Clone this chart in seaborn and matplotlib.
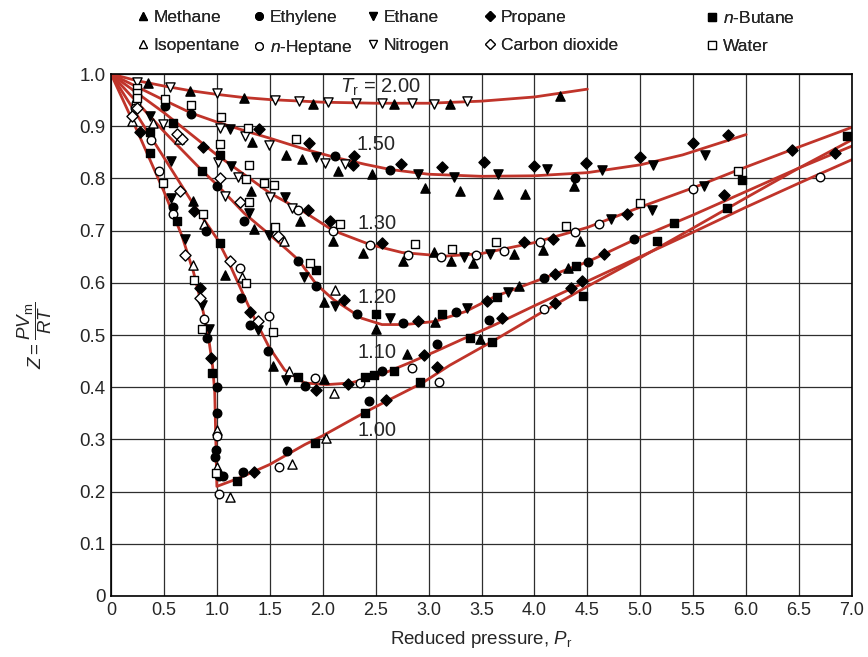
import matplotlib
matplotlib.use('Agg')
import numpy as np
import pandas as pd
import matplotlib.pyplot as plt
from matplotlib.lines import Line2D
from matplotlib import font_manager
import seaborn as sns

# ## 데이터

# 곡선: 환산 온도별 (Pr, Z)
tr_labels = ['2.00', '1.50', '1.30', '1.20', '1.10', '1.00']
tr200_pr = [0, 0.25, 0.5, 0.75, 1.0, 1.25, 1.5, 2.0, 2.5, 3.0, 3.5, 4.0, 4.5]
tr200_z = [1.0, 0.987, 0.977, 0.968, 0.961, 0.955, 0.951, 0.946, 0.944, 0.944, 0.948, 0.956, 0.971]
tr150_pr = [0, 0.25, 0.5, 0.76, 1.0, 1.3, 1.5, 1.83, 2.12, 2.4, 2.64, 3.0, 3.5, 4.0, 4.5, 5.0, 5.4, 6.0]
tr150_z = [1.0, 0.975, 0.95, 0.925, 0.908, 0.889, 0.877, 0.856, 0.840, 0.827, 0.817, 0.808, 0.804, 0.805, 0.811, 0.826, 0.845, 0.884]
tr130_pr = [0, 0.25, 0.5, 0.87, 1.0, 1.33, 1.5, 1.83, 2.1, 2.45, 2.75, 3.15, 3.5, 4.0, 4.5, 5.0, 5.5, 5.91, 6.43, 7.0]
tr130_z = [1.0, 0.963, 0.926, 0.866, 0.845, 0.797, 0.772, 0.735, 0.700, 0.673, 0.658, 0.651, 0.656, 0.677, 0.706, 0.745, 0.782, 0.815, 0.855, 0.898]
tr120_pr = [0, 0.25, 0.5, 0.86, 1.0, 1.26, 1.5, 1.66, 1.77, 1.94, 2.1, 2.2, 2.37, 2.56, 2.78, 3.06, 3.35, 3.63, 4.09, 4.5, 4.95, 5.5, 6.0, 6.5, 7.0]
tr120_z = [1.0, 0.945, 0.89, 0.815, 0.788, 0.733, 0.692, 0.664, 0.644, 0.597, 0.568, 0.555, 0.532, 0.520, 0.520, 0.526, 0.545, 0.574, 0.609, 0.640, 0.683, 0.730, 0.775, 0.820, 0.862]
tr110_pr = [0, 0.25, 0.5, 0.78, 1.0, 1.1, 1.2, 1.33, 1.49, 1.64, 1.83, 2.04, 2.26, 2.51, 2.81, 3.06, 3.31, 3.63, 4.0, 4.5, 5.0, 5.5, 6.0, 6.5, 7.0]
tr110_z = [1.0, 0.92, 0.84, 0.75, 0.685, 0.645, 0.600, 0.542, 0.478, 0.433, 0.408, 0.405, 0.408, 0.421, 0.446, 0.468, 0.491, 0.520, 0.556, 0.603, 0.650, 0.697, 0.745, 0.791, 0.836]
tr100_pr = [0, 0.25, 0.5, 0.67, 0.78, 0.86, 0.92, 0.96, 0.98, 0.99, 1.0, 1.2, 1.5, 1.83, 2.0, 2.4, 2.6, 2.94, 3.2, 3.63, 4.09, 4.5, 5.0, 5.5, 6.0, 6.5, 7.0]
tr100_z = [1.0, 0.89, 0.775, 0.69, 0.62, 0.555, 0.497, 0.44, 0.39, 0.30, 0.21, 0.225, 0.252, 0.29, 0.307, 0.352, 0.373, 0.408, 0.442, 0.491, 0.546, 0.593, 0.648, 0.705, 0.763, 0.82, 0.874]

# 측정점: 물질별 (Pr, Z)
methane_pr = [0.35, 0.75, 1.26, 1.91, 2.67, 3.20, 4.24,
              1.33, 1.65, 1.80, 2.14, 2.47, 2.97, 3.30, 3.66, 3.91, 4.37,
              1.32, 1.79, 2.10, 2.38, 2.76, 3.05, 3.21, 3.42, 3.81, 4.08, 4.43,
              1.35, 2.01, 2.50, 3.06, 3.85, 4.32,
              0.77, 1.08, 1.53, 2.01, 2.80, 3.49]
methane_z = [0.983, 0.967, 0.954, 0.943, 0.943, 0.943, 0.958,
             0.870, 0.845, 0.837, 0.814, 0.808, 0.781, 0.775, 0.771, 0.771, 0.785,
             0.775, 0.718, 0.680, 0.657, 0.641, 0.659, 0.641, 0.637, 0.656, 0.663, 0.680,
             0.704, 0.564, 0.511, 0.525, 0.593, 0.628,
             0.757, 0.614, 0.441, 0.415, 0.464, 0.492]
ethylene_pr = [0.51, 0.76, 2.12, 2.64, 4.38,
               1.00, 1.26, 1.77, 1.94, 2.32, 2.76, 3.26, 4.09, 4.51, 4.94,
               0.90, 1.23, 1.31, 1.48, 1.83, 2.56, 3.08, 3.57,
               0.59, 0.91, 1.00, 1.00, 0.99, 0.98, 1.02, 1.06, 1.25, 1.66, 2.44]
ethylene_z = [0.939, 0.923, 0.843, 0.817, 0.800,
              0.786, 0.719, 0.641, 0.593, 0.541, 0.523, 0.545, 0.609, 0.640, 0.683,
              0.700, 0.571, 0.520, 0.469, 0.403, 0.431, 0.483, 0.528,
              0.745, 0.494, 0.401, 0.351, 0.280, 0.267, 0.229, 0.230, 0.237, 0.277, 0.374]
ethane_pr = [1.12, 1.94, 2.90, 3.24, 3.66, 4.12, 4.64, 5.12, 5.61,
             1.13, 1.64, 3.33, 3.58, 4.72, 5.11, 5.60,
             1.30, 1.49, 1.82, 2.12, 2.64, 3.36, 3.75,
             0.57, 1.39, 1.65,
             0.57, 0.70, 0.86, 0.93, 0.37]
ethane_z = [0.894, 0.841, 0.809, 0.803, 0.809, 0.818, 0.816, 0.825, 0.845,
            0.824, 0.764, 0.649, 0.656, 0.722, 0.740, 0.785,
            0.733, 0.692, 0.612, 0.555, 0.532, 0.552, 0.582,
            0.833, 0.510, 0.413,
            0.763, 0.683, 0.558, 0.512, 0.920]
propane_pr = [1.40, 1.87, 2.30, 2.29, 2.74, 3.13, 3.52, 4.00, 4.49, 5.00, 5.50, 5.83,
              0.87, 1.86, 2.07, 2.56, 3.90, 4.18, 4.87, 6.43,
              0.27, 2.20, 2.90, 3.55, 4.19, 4.66, 5.79, 6.84,
              0.78, 1.31, 1.94, 2.24, 2.96, 3.69, 4.45,
              0.84, 0.94, 1.35, 2.60, 3.08, 4.19, 4.35]
propane_z = [0.894, 0.867, 0.843, 0.826, 0.828, 0.821, 0.832, 0.823, 0.830, 0.841, 0.867, 0.883,
             0.860, 0.740, 0.718, 0.676, 0.679, 0.683, 0.731, 0.855,
             0.888, 0.568, 0.527, 0.566, 0.616, 0.656, 0.769, 0.849,
             0.738, 0.545, 0.395, 0.406, 0.462, 0.532, 0.603,
             0.590, 0.456, 0.237, 0.375, 0.439, 0.561, 0.590]
butane_pr = [1.03, 0.59, 0.86, 1.94, 2.50, 3.13, 3.65, 4.39, 5.32, 5.96,
             1.03, 1.77, 2.40, 2.48, 2.67, 3.39,
             0.37, 0.37, 0.62, 0.95, 1.19, 1.93, 2.40, 2.92, 3.60, 4.46, 5.16, 5.82, 6.95]
butane_z = [0.845, 0.907, 0.815, 0.625, 0.541, 0.541, 0.573, 0.632, 0.715, 0.796,
            0.676, 0.420, 0.420, 0.424, 0.431, 0.494,
            0.888, 0.849, 0.718, 0.427, 0.221, 0.294, 0.350, 0.410, 0.487, 0.574, 0.680, 0.743, 0.881]
isopentane_pr = [0.20, 0.40, 0.64, 0.77, 0.88, 1.24, 1.63, 2.12, 1.68, 2.11, 1.00, 1.00, 1.71, 1.12, 2.03]
isopentane_z = [0.910, 0.907, 0.875, 0.635, 0.712, 0.612, 0.680, 0.587, 0.431, 0.388, 0.318, 0.248, 0.253, 0.190, 0.302]
heptane_pr = [0.24, 0.23, 0.45, 0.38, 0.59, 0.88, 1.22, 1.49, 1.77, 2.10, 2.45, 2.81, 3.12, 3.45, 3.71,
              4.05, 4.38, 4.61, 5.50, 1.93, 2.35, 2.84, 3.10, 1.00, 1.59, 1.02, 4.09, 6.70]
heptane_z = [0.945, 0.935, 0.814, 0.874, 0.732, 0.530, 0.628, 0.536, 0.739, 0.700, 0.673, 0.654, 0.650, 0.654, 0.661,
             0.679, 0.697, 0.713, 0.780, 0.417, 0.409, 0.436, 0.410, 0.306, 0.247, 0.196, 0.549, 0.803]
nitrogen_pr = [0.25, 0.56, 1.00, 1.55, 1.78, 2.05, 2.31, 2.56, 2.84, 3.05, 3.36,
               1.03, 1.27, 1.49, 2.02, 2.21, 1.01, 1.20, 1.50, 1.71, 1.08, 0.49]
nitrogen_z = [0.984, 0.975, 0.964, 0.951, 0.949, 0.946, 0.945, 0.945, 0.945, 0.943, 0.948,
              0.896, 0.881, 0.864, 0.830, 0.827, 0.832, 0.803, 0.764, 0.744, 0.767, 0.905]
co2_pr = [0.20, 0.62, 0.67, 1.03, 1.22, 1.58, 0.65, 1.12, 1.39, 0.70, 0.84, 0.25]
co2_z = [0.920, 0.885, 0.875, 0.801, 0.754, 0.690, 0.776, 0.641, 0.526, 0.654, 0.571, 0.935]
water_pr = [0.25, 0.25, 0.25, 0.51, 0.76, 1.04, 1.29, 1.75, 1.03, 1.30, 1.28, 1.45, 1.54, 1.30, 1.55,
            2.16, 2.87, 3.22, 3.64, 4.30, 5.00, 5.92, 1.88, 0.87, 0.49, 1.28, 1.53, 0.78, 0.86, 0.99]
water_z = [0.974, 0.964, 0.954, 0.952, 0.941, 0.918, 0.897, 0.875, 0.865, 0.826, 0.798, 0.792, 0.787, 0.754, 0.707,
           0.712, 0.674, 0.665, 0.678, 0.708, 0.753, 0.815, 0.638, 0.731, 0.791, 0.600, 0.505, 0.606, 0.512, 0.236]

x_ticks = [0, 0.5, 1.0, 1.5, 2.0, 2.5, 3.0, 3.5, 4.0, 4.5, 5.0, 5.5, 6.0, 6.5, 7.0]
x_tick_labels = ['0', '0.5', '1.0', '1.5', '2.0', '2.5', '3.0', '3.5', '4.0', '4.5', '5.0', '5.5', '6.0', '6.5', '7.0']
y_ticks = [0, 0.1, 0.2, 0.3, 0.4, 0.5, 0.6, 0.7, 0.8, 0.9, 1.0]
y_tick_labels = ['0', '0.1', '0.2', '0.3', '0.4', '0.5', '0.6', '0.7', '0.8', '0.9', '1.0']

# ## 스타일 설정
sns.set_style('white')
plt.rcParams['font.family'] = ['Liberation Sans', 'DejaVu Sans']
plt.rcParams['mathtext.fontset'] = 'custom'
plt.rcParams['mathtext.rm'] = 'Liberation Sans'
plt.rcParams['mathtext.it'] = 'Liberation Sans:italic'

names = {f.name for f in font_manager.fontManager.ttflist}
narrow = 'Liberation Sans Narrow' if 'Liberation Sans Narrow' in names else 'Liberation Sans'

red = '#c0342a'

curves = pd.concat([
    pd.DataFrame({'Pr': p, 'Z': z, 'Tr': t})
    for t, p, z in zip(tr_labels,
                       [tr200_pr, tr150_pr, tr130_pr, tr120_pr, tr110_pr, tr100_pr],
                       [tr200_z, tr150_z, tr130_z, tr120_z, tr110_z, tr100_z])
], ignore_index=True)

# (이름, x, y, 마커, 채움 여부) - 범례 열 순서대로
species = [
    ('Methane', methane_pr, methane_z, '^', True),
    ('Isopentane', isopentane_pr, isopentane_z, '^', False),
    ('Ethylene', ethylene_pr, ethylene_z, 'o', True),
    ('$n$-Heptane', heptane_pr, heptane_z, 'o', False),
    ('Ethane', ethane_pr, ethane_z, 'v', True),
    ('Nitrogen', nitrogen_pr, nitrogen_z, 'v', False),
    ('Propane', propane_pr, propane_z, 'D', True),
    ('Carbon dioxide', co2_pr, co2_z, 'D', False),
    ('$n$-Butane', butane_pr, butane_z, 's', True),
    ('Water', water_pr, water_z, 's', False),
]

fig = plt.figure(figsize=(8.68, 6.57), dpi=100)
ax = fig.add_axes([111 / 868, 61 / 657, 741 / 868, 522 / 657])

sns.lineplot(data=curves, x='Pr', y='Z', units='Tr', estimator=None, sort=False,
             color=red, linewidth=2.0, ax=ax, zorder=2)

sizes = {'^': 44, 'v': 44, 'o': 38, 'D': 32, 's': 32}
for name, px, pz, mk, filled in species:
    sns.scatterplot(x=px, y=pz, marker=mk, s=sizes[mk],
                    color='black' if filled else 'white',
                    edgecolor='black', linewidth=1.0, ax=ax, zorder=3)

ax.set_xlim(0, 7.0)
ax.set_ylim(0, 1.0)
ax.set_xticks(x_ticks)
ax.set_xticklabels(x_tick_labels, fontsize=13, family=narrow)
ax.set_yticks(y_ticks)
ax.set_yticklabels(y_tick_labels, fontsize=13.5)
ax.tick_params(length=0, pad=4)
ax.grid(True, color='#2e2e2e', linewidth=0.9)
ax.set_axisbelow(True)
for s in ax.spines.values():
    s.set_color('black')
    s.set_linewidth(1.2)
ax.set_xlabel('')
ax.set_ylabel('')

# 곡선 라벨
ax.text(2.16, 0.975, r'$T_\mathrm{r}$ = 2.00', fontsize=14.5, va='center', ha='left', zorder=4)
for lab, x, y in [('1.50', 2.32, 0.864), ('1.30', 2.33, 0.714), ('1.20', 2.33, 0.571),
                  ('1.10', 2.33, 0.467), ('1.00', 2.33, 0.318)]:
    ax.text(x, y, lab, fontsize=14.5, va='center', ha='left', zorder=4)

fig.text(0.554, 0.026, r'Reduced pressure, $P_\mathrm{r}$', fontsize=13.5, family=narrow,
         ha='center', va='center')
fig.text(0.040, 0.49, r'$Z=\dfrac{PV_\mathrm{m}}{RT}$', fontsize=13.5, rotation=90,
         ha='center', va='center')

# 범례: 열마다 따로 배치
col_x = [138, 254, 368, 485, 707]
for i, cx in enumerate(col_x):
    hs = []
    for name, px, pz, mk, filled in species[2 * i:2 * i + 2]:
        hs.append(Line2D([], [], linestyle='none', marker=mk, markersize=5.5 if mk != 'D' else 4.8,
                         markerfacecolor='black' if filled else 'white',
                         markeredgecolor='black', markeredgewidth=0.9, label=name))
    leg = fig.legend(handles=hs, ncol=1, loc='upper left', bbox_to_anchor=(cx / 868, 1 - 10 / 657),
                     frameon=False, prop={'family': narrow, 'size': 12.5}, handlelength=0.6,
                     handletextpad=0.3, borderpad=0, borderaxespad=0, labelspacing=0.75)
    fig.add_artist(leg)

fig.savefig('out.png', dpi=100)
